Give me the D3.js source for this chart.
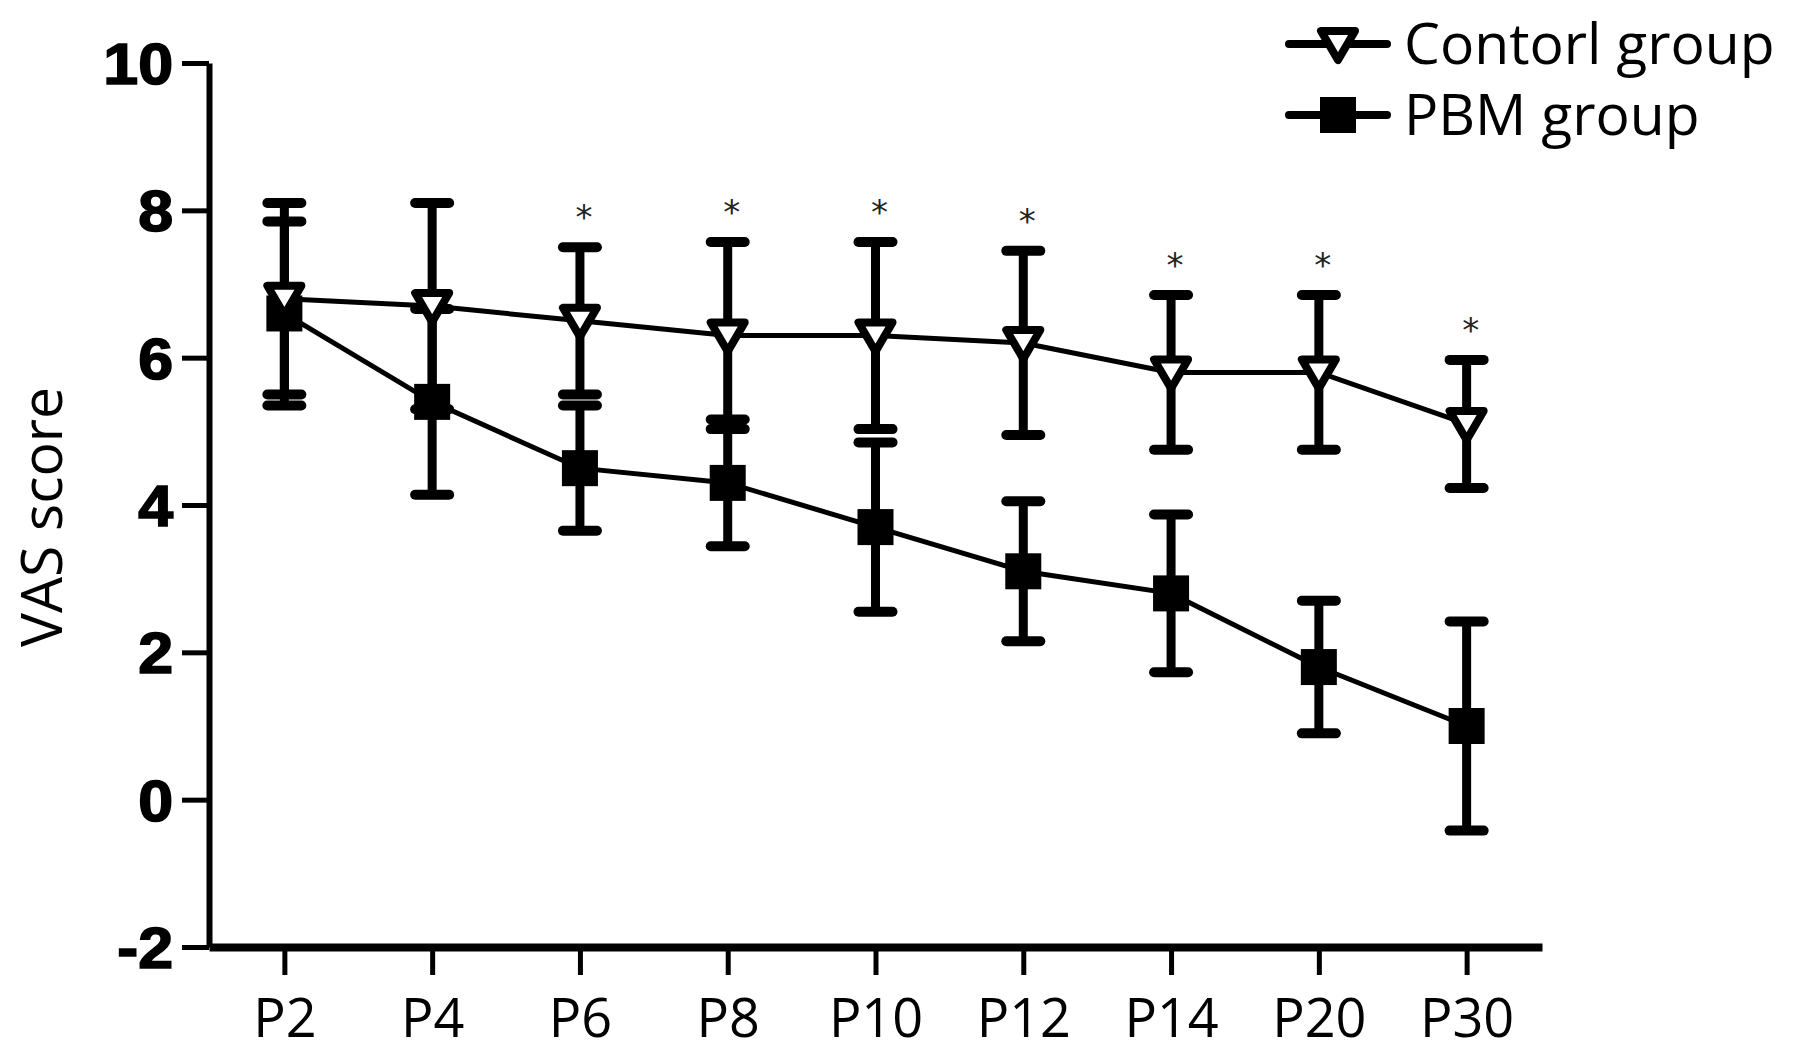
<!DOCTYPE html>
<html>
<head>
<meta charset="utf-8">
<script src="https://cdn.jsdelivr.net/npm/d3@7"></script>
<style>
  html, body { margin: 0; padding: 0; background: #fff; }
  svg { display: block; }
</style>
</head>
<body>
<svg id="chart" width="1800" height="1054"></svg>
<script>
const categories = ["P2", "P4", "P6", "P8", "P10", "P12", "P14", "P20", "P30"];
const controlMean = [6.8, 6.7, 6.5, 6.3, 6.3, 6.2, 5.8, 5.8, 5.1];
const controlSD   = [1.3, 1.4, 1.0, 1.27, 1.27, 1.25, 1.05, 1.05, 0.87];
const pbmMean     = [6.6, 5.4, 4.5, 4.3, 3.7, 3.1, 2.8, 1.8, 1.0];
const pbmSD       = [1.25, 1.26, 0.85, 0.86, 1.15, 0.95, 1.07, 0.9, 1.42];
const significance = ["", "", "*", "*", "*", "*", "*", "*", "*"];
const yTicks = [-2, 0, 2, 4, 6, 8, 10];
const yTickLabels = ["-2", "0", "2", "4", "6", "8", "10"];
const seriesNames = ["Contorl group", "PBM group"];
const yLabel = "VAS score";

const svg = d3.select("#chart");

const x = d3.scalePoint().domain(categories).range([209, 1542]).padding(0.51);
const y = d3.scaleLinear().domain([-2, 10]).range([947, 63]);

// Y axis
const yAxis = svg.append("g").attr("transform", "translate(209,0)")
  .call(d3.axisLeft(y).tickValues(yTicks).tickSize(27).tickSizeOuter(0).tickPadding(0)
    .tickFormat(d => yTickLabels[yTicks.indexOf(d)]));
yAxis.select(".domain").attr("stroke", "#000").attr("stroke-width", 6);
yAxis.selectAll(".tick line").attr("stroke", "#000").attr("stroke-width", 5);
const ySX = 1.1;
yAxis.selectAll(".tick text")
  .attr("font-family", "'Liberation Sans', Arial, sans-serif")
  .attr("font-weight", "bold")
  .attr("font-size", 57)
  .attr("fill", "#000")
  .attr("stroke", "#000")
  .attr("stroke-width", 1.6)
  .attr("x", -36 / ySX)
  .attr("dy", "0.36em")
  .attr("transform", `scale(${ySX},1)`);

// X axis
const xAxis = svg.append("g").attr("transform", "translate(0,947)")
  .call(d3.axisBottom(x).tickSize(28).tickSizeOuter(0).tickPadding(24));
xAxis.select(".domain").attr("stroke", "#000").attr("stroke-width", 8);
xAxis.selectAll(".tick line").attr("stroke", "#000").attr("stroke-width", 5);
xAxis.selectAll(".tick text")
  .attr("font-family", "'Open Sans', sans-serif")
  .attr("font-size", 54)
  .attr("fill", "#000");

// Y label
svg.append("text")
  .attr("transform", "translate(62,517) rotate(-90)")
  .attr("text-anchor", "middle")
  .attr("font-family", "'Open Sans', sans-serif")
  .attr("font-size", 57)
  .attr("fill", "#000")
  .text(yLabel);

const series = [
  { name: seriesNames[0], mean: controlMean, sd: controlSD, marker: "tri" },
  { name: seriesNames[1], mean: pbmMean, sd: pbmSD, marker: "sq" }
];

const capW = 44;
// error bars
series.forEach(s => {
  const g = svg.append("g");
  categories.forEach((c, i) => {
    const cx = x(c), hi = y(s.mean[i] + s.sd[i]), lo = y(s.mean[i] - s.sd[i]);
    g.append("line").attr("x1", cx).attr("x2", cx).attr("y1", hi).attr("y2", lo)
      .attr("stroke", "#000").attr("stroke-width", 9);
    [hi, lo].forEach(yy => {
      g.append("line").attr("x1", cx - capW / 2 + 5).attr("x2", cx + capW / 2 - 5)
        .attr("y1", yy).attr("y2", yy)
        .attr("stroke", "#000").attr("stroke-width", 10).attr("stroke-linecap", "round");
    });
  });
});

// lines
const line = d3.line().x((d, i) => x(categories[i])).y(d => y(d));
series.forEach(s => {
  svg.append("path").datum(s.mean).attr("d", line)
    .attr("fill", "none").attr("stroke", "#000").attr("stroke-width", 5);
});

// markers
const triPath = "M-17,-13 L17,-13 L0,16 Z";
function drawMarker(g, type, cx, cy) {
  if (type === "tri") {
    g.append("path").attr("d", triPath).attr("transform", `translate(${cx},${cy})`)
      .attr("fill", "#fff").attr("stroke", "#000").attr("stroke-width", 8)
      .attr("stroke-linejoin", "round");
  } else {
    g.append("rect").attr("x", cx - 18).attr("y", cy - 18).attr("width", 36).attr("height", 36)
      .attr("fill", "#000");
  }
}
const markG = svg.append("g");
series.slice().reverse().forEach(s => {
  categories.forEach((c, i) => drawMarker(markG, s.marker, x(c), y(s.mean[i])));
});

// significance asterisks
svg.append("g").selectAll("text").data(categories).join("text")
  .attr("x", c => x(c) + 4)
  .attr("y", (c, i) => y(controlMean[i] + controlSD[i]) - 18)
  .attr("text-anchor", "middle")
  .attr("font-family", "'DejaVu Sans', sans-serif")
  .attr("font-size", 34)
  .attr("fill", "#222")
  .text((c, i) => significance[i]);

// legend
const legend = svg.append("g");
series.forEach((s, i) => {
  const ly = 44 + i * 71;
  legend.append("line").attr("x1", 1289).attr("x2", 1387).attr("y1", ly).attr("y2", ly)
    .attr("stroke", "#000").attr("stroke-width", 8).attr("stroke-linecap", "round");
  drawMarker(legend, s.marker, 1338, ly);
  legend.append("text").attr("x", 1404).attr("y", ly + 20)
    .attr("font-family", "'Open Sans', sans-serif")
    .attr("font-size", 57)
    .attr("fill", "#000")
    .text(s.name);
});
</script>
</body>
</html>
